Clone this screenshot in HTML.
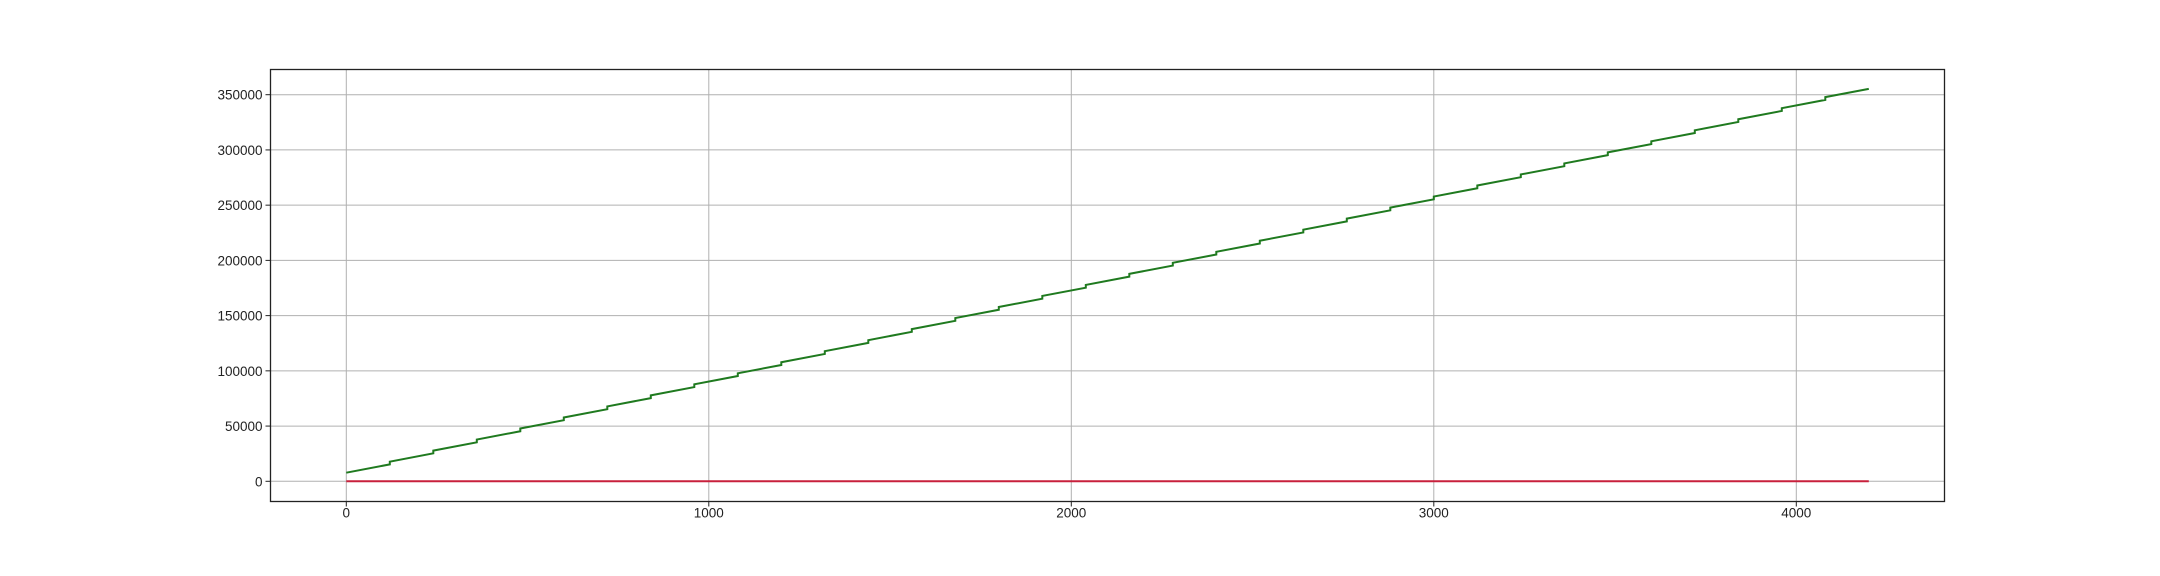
<!DOCTYPE html>
<html><head><meta charset="utf-8"><style>
html,body{margin:0;padding:0;background:#fff;}
svg{display:block;font-family:"Liberation Sans","DejaVu Sans",sans-serif;}
</style></head><body>
<svg id="chart" width="2160" height="576" xmlns="http://www.w3.org/2000/svg">
<rect x="0" y="0" width="2160" height="576" fill="#fff"/>
<g id="grid"></g>
<g id="series"></g>
<rect x="270.5" y="69.5" width="1674" height="432" fill="none" stroke="#222" stroke-width="1.3"/>
<g id="axes"></g>
</svg>
<script>
const xTicks = [0, 1000, 2000, 3000, 4000];
const yTicks = [0, 50000, 100000, 150000, 200000, 250000, 300000, 350000];
const segStartX = [0,120,240,360,480,600,720,840,960,1080,1200,1320,1440,1560,1680,1800,1920,2040,2160,2280,2400,2520,2640,2760,2880,3000,3120,3240,3360,3480,3600,3720,3840,3960,4080];
const segStartY = [7800,17800,27800,37800,47800,57800,67800,77800,87800,97800,107800,117800,127800,137800,147800,157800,167800,177800,187800,197800,207800,217800,227800,237800,247800,257800,267800,277800,287800,297800,307800,317800,327800,337800,347800];
const segEndY = [15300,25300,35300,45300,55300,65300,75300,85300,95300,105300,115300,125300,135300,145300,155300,165300,175300,185300,195300,205300,215300,225300,235300,245300,255300,265300,275300,285300,295300,305300,315300,325300,335300,345300,355300];
const segLen = 120;
const redX = [0, 4200];
const redY = [0, 0];

const NS = "http://www.w3.org/2000/svg";
const X0 = 346.3, XS = (1796.3 - 346.3) / 4000;
const Y0 = 481.3, YS = (481.3 - 94.7) / 350000;
const sx = v => X0 + v * XS;
const sy = v => Y0 - v * YS;
const L = 270.5, R = 1944.5, T = 69.5, B = 501.5;

const grid = document.getElementById('grid');
const axes = document.getElementById('axes');
const series = document.getElementById('series');

function mk(tag, attrs, parent) {
  const el = document.createElementNS(NS, tag);
  for (const k in attrs) el.setAttribute(k, attrs[k]);
  parent.appendChild(el);
  return el;
}

xTicks.forEach(t => {
  const x = sx(t);
  const g = mk('line', {x1: x, x2: x, y1: T, y2: B, stroke: '#b0b0b0', 'stroke-width': 1}, grid);
  
  
  const tk = mk('line', {x1: x, x2: x, y1: B, y2: B + 5, stroke: '#222', 'stroke-width': 1}, axes);
  
  
  const tx = mk('text', {x: x, y: B + 16, 'font-size': 13.5, 'text-anchor': 'middle', fill: '#222'}, axes);
  tx.textContent = String(t);
  
  
});
yTicks.forEach(t => {
  const y = sy(t);
  const g = mk('line', {x1: L, x2: R, y1: y, y2: y, stroke: '#b0b0b0', 'stroke-width': 1}, grid);
  
  
  const tk = mk('line', {x1: L - 5, x2: L, y1: y, y2: y, stroke: '#222', 'stroke-width': 1}, axes);
  
  
  const tx = mk('text', {x: L - 8, y: y + 5, 'font-size': 13.5, 'text-anchor': 'end', fill: '#222'}, axes);
  tx.textContent = String(t);
  
  
});

let d = '';
segStartX.forEach((x, i) => {
  d += (i === 0 ? 'M' : 'L') + sx(x).toFixed(2) + ',' + sy(segStartY[i]).toFixed(2) + ' ';
  d += 'L' + sx(x + segLen).toFixed(2) + ',' + sy(segEndY[i]).toFixed(2) + ' ';
});
const red = mk('path', {d: 'M' + sx(redX[0]) + ',' + sy(redY[0]) + ' L' + sx(redX[1]) + ',' + sy(redY[1]), stroke: '#c8203c', 'stroke-width': 2, fill: 'none'}, series);


const green = mk('path', {d: d, stroke: '#1f7a1f', 'stroke-width': 2, fill: 'none'}, series);


</script>
</body></html>
